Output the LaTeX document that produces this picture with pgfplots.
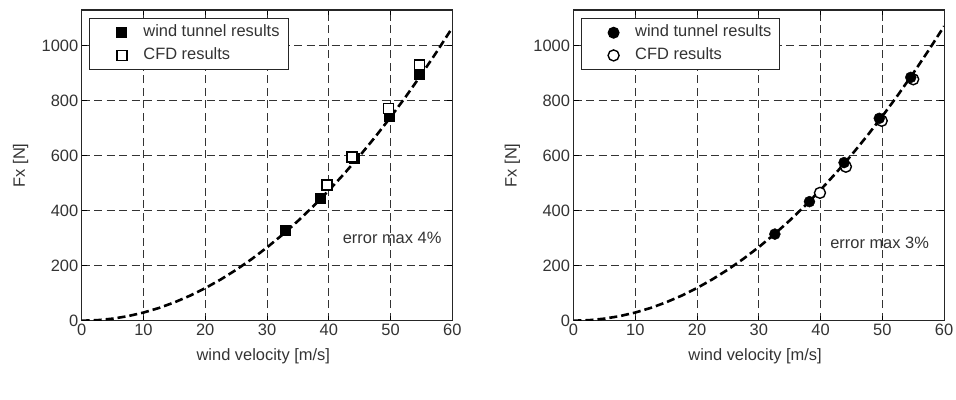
\documentclass[border=0pt]{standalone}
\usepackage{pgfplots}
\pgfplotsset{compat=1.18}
\usepackage{fontspec}
\setmainfont{Liberation Sans}
\newcommand\fs{\fontsize{16.5}{19.8}\selectfont}

\pgfplotstableread{
v F
0 0
2.5 1.85
5 7.4
7.5 16.65
10 29.6
12.5 46.25
15 66.6
17.5 90.65
20 118.4
22.5 149.85
25 185
27.5 223.85
30 266.4
32.5 312.65
35 362.6
37.5 416.25
40 473.6
42.5 534.65
45 599.4
47.5 667.85
50 740
52.5 815.85
55 895.4
57.5 978.65
60 1065.6
}\fitA
\pgfplotstableread{
v F
0 0
2.5 1.86
5 7.44
7.5 16.73
10 29.75
12.5 46.48
15 66.94
17.5 91.11
20 119
22.5 150.61
25 185.94
27.5 224.98
30 267.75
32.5 314.23
35 364.44
37.5 418.36
40 476
42.5 537.36
45 602.44
47.5 671.23
50 743.75
52.5 819.98
55 899.94
57.5 983.61
60 1071
}\fitB
\pgfplotstableread{
v F
33 330
38.6 447
44.1 590
49.8 744
54.7 897
}\wtA
\pgfplotstableread{
v F
39.7 493
43.8 596
49.7 772
54.7 930
}\cfdA
\pgfplotstableread{
v F
32.6 315
38.2 433
43.8 575
49.5 736
54.6 885
}\wtB
\pgfplotstableread{
v F
39.9 465
44.1 560
49.9 727
55 878
}\cfdB

\definecolor{txt}{gray}{0.2}
\pgfplotsset{
  myaxis/.style={
    scale only axis, width=370.6bp, height=310.7bp,
    xmin=0, xmax=60, ymin=0, ymax=1130,
    xtick={0,10,...,60}, ytick={0,200,...,1000},
    /pgf/number format/assume math mode=true,
    /pgf/number format/set thousands separator={},
    tick label style={font=\fs, text=txt},
    tick align=inside, major tick length=5bp,
    tick style={black, line width=0.8bp},
    axis line style={line width=1.2bp, black!85},
    grid=major,
    grid style={black!80, line width=0.9bp, dash pattern=on 8bp off 4.5bp},
    xlabel={wind velocity [m/s]}, ylabel={Fx [N]},
    label style={font=\fs, text=txt},
    xlabel style={at={(axis description cs:0.49,-0.1136)}, anchor=center},
    ylabel style={at={(axis description cs:-0.165,0.5)}, anchor=center},
    legend cell align=left,
    legend style={at={(axis description cs:0.0205,0.973)}, anchor=north west,
      draw=black!85, line width=1bp, font=\fs, text=txt, inner xsep=5bp, inner ysep=2.5bp,
      nodes={inner sep=3.6bp, text height=12bp, text depth=3.5bp}},
    legend image code/.code={\path[draw=none,fill=none] (0bp,0bp) -- (45bp,0bp); \draw[##1, only marks] plot coordinates {(27bp,0bp)};},
  },
  fitline/.style={black, line width=2.6bp, dash pattern=on 8bp off 4bp, no marks, forget plot},
}

\begin{document}
\begin{tikzpicture}[x=1bp,y=1bp]
\useasboundingbox (0,0) rectangle (956,399);
\begin{axis}[myaxis, at={(81.7bp,78.3bp)}, anchor=south west]
\addplot[fitline] table {\fitA};
\addplot[only marks, mark=square*, mark size=5bp, black, mark options={solid}] table {\wtA};
\addlegendentry{wind tunnel results}
\addplot[only marks, mark=square*, mark size=5bp, black, mark options={solid, fill=white, line width=1.6bp}] table {\cfdA};
\addlegendentry{CFD results}
\node[anchor=west, font=\fs, text=txt] at (axis cs:41.7,303) {error max 4\%};
\node[font=\fs, text=txt] at (axis description cs:0.524,-0.2005) {(a)};
\end{axis}
\begin{axis}[myaxis, at={(573.5bp,78.3bp)}, anchor=south west, reverse legend]
\addplot[fitline] table {\fitB};
\addplot[only marks, mark=*, mark size=5.5bp, black, mark options={solid, fill=white, line width=1.4bp}] table {\cfdB};
\addlegendentry{CFD results}
\addplot[only marks, mark=*, mark size=5.5bp, black, mark options={solid}] table {\wtB};
\addlegendentry{wind tunnel results}
\node[anchor=west, font=\fs, text=txt] at (axis cs:41.0,281.5) {error max 3\%};
\node[font=\fs, text=txt] at (axis description cs:0.524,-0.2005) {(b)};
\end{axis}
\end{tikzpicture}
\end{document}
